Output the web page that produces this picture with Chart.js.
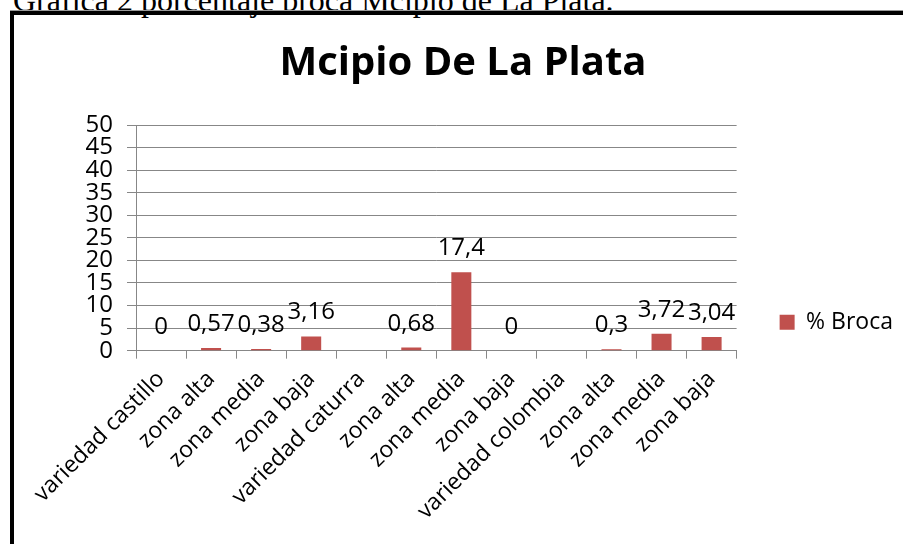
<!DOCTYPE html>
<html>
<head>
<meta charset="utf-8">
<script src="https://cdn.jsdelivr.net/npm/chart.js@4"></script>
<style>
  html, body { margin: 0; padding: 0; background: #fff; overflow: hidden; }
  #caption {
    position: absolute; left: 13px; top: -18px;
    font-family: "Liberation Serif", serif; font-size: 32px; line-height: 36px;
    white-space: nowrap; color: #000;
  }
  #frame {
    position: absolute; left: 10px; top: 11px; width: 900px; height: 540px;
    border-left: 4px solid #000; border-top: 4px solid #000;
    box-shadow: 0 -1px 0 #999;
  }
  #chart { position: absolute; left: 0; top: 0; }
</style>
</head>
<body>
<div id="caption">Grafica 2 porcentaje broca Mcipio de La Plata.</div>
<div id="frame"></div>
<canvas id="chart" width="903" height="544"></canvas>
<script>
const categories = [
  'variedad castillo', 'zona alta', 'zona media', 'zona baja',
  'variedad caturra', 'zona alta', 'zona media', 'zona baja',
  'variedad colombia', 'zona alta', 'zona media', 'zona baja'
];
const broca = [0, 0.57, 0.38, 3.16, null, 0.68, 17.4, 0, null, 0.3, 3.72, 3.04];
const yTicks = [0, 5, 10, 15, 20, 25, 30, 35, 40, 45, 50];

const FONT = '"Open Sans", sans-serif';
const GRID = '#878787';

const valueLabels = {
  id: 'valueLabels',
  afterDatasetsDraw(chart) {
    const ctx = chart.ctx;
    const meta = chart.getDatasetMeta(0);
    ctx.save();
    ctx.font = '24px ' + FONT;
    ctx.fillStyle = '#000';
    ctx.textAlign = 'center';
    ctx.textBaseline = 'alphabetic';
    meta.data.forEach((bar, i) => {
      const v = broca[i];
      if (v === null) return;
      ctx.fillText(String(v).replace('.', ','), bar.x, bar.y - 17);
    });
    ctx.restore();
  }
};

new Chart(document.getElementById('chart'), {
  type: 'bar',
  data: {
    labels: categories,
    datasets: [{
      label: '% Broca',
      data: broca,
      backgroundColor: '#c0504d',
      borderWidth: 0,
      barPercentage: 0.4,
      categoryPercentage: 1
    }]
  },
  options: {
    responsive: false,
    animation: false,
    layout: { padding: { left: 23, right: 0, top: 0, bottom: 12 } },
    plugins: {
      title: {
        display: true,
        text: 'Mcipio De La Plata',
        color: '#000',
        font: { family: FONT, size: 40, weight: 'bold' },
        padding: { top: 40, bottom: 37 }
      },
      legend: {
        position: 'right',
        // empty legend title only pushes the item down to where the original sits
        title: { display: true, text: '', padding: { top: 49, bottom: 49 } },
        labels: {
          color: '#000',
          font: { family: FONT, size: 23 },
          boxWidth: 15,
          boxHeight: 15,
          padding: 43
        }
      },
      tooltip: { enabled: false }
    },
    scales: {
      x: {
        grid: { offset: true, drawOnChartArea: false, color: GRID, tickLength: 8 },
        border: { color: GRID },
        ticks: {
          color: '#000',
          font: { family: FONT, size: 23 },
          maxRotation: 45,
          minRotation: 45,
          autoSkip: false,
          padding: 7
        }
      },
      y: {
        min: 0,
        max: 50,
        afterFit(scale) { scale.width = 113; },
        afterBuildTicks(scale) { scale.ticks = yTicks.map(v => ({ value: v })); },
        grid: { color: GRID, tickLength: 9 },
        border: { color: GRID },
        ticks: {
          color: '#000',
          font: { family: FONT, size: 24, lineHeight: 1 },
          autoSkip: false,
          padding: 14
        }
      }
    }
  },
  plugins: [valueLabels]
});
</script>
</body>
</html>
